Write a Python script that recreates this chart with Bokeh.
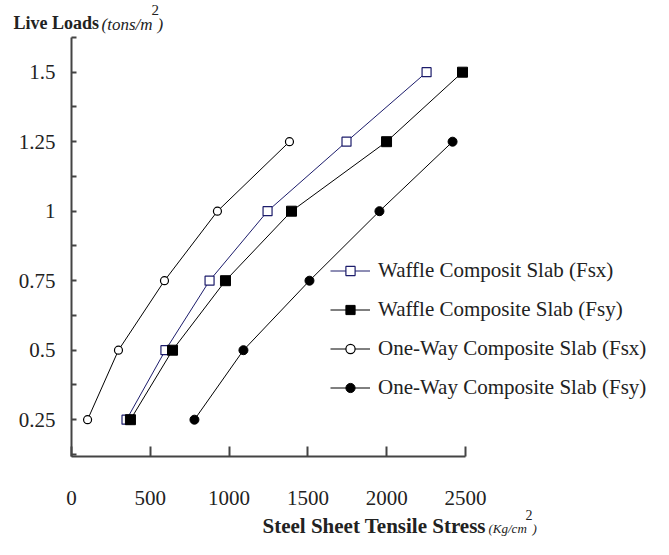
from bokeh.plotting import figure
from bokeh.models import Range1d, FixedTicker, Legend, LegendItem, Label
from bokeh.embed import file_html
from bokeh.resources import INLINE

# ---- data ----
loads = [0.25, 0.5, 0.75, 1.0, 1.25, 1.5]
waffle_fsx = [349, 596, 876, 1244, 1745, 2253]
waffle_fsy = [374, 641, 977, 1396, 1999, 2481]
oneway_loads = [0.25, 0.5, 0.75, 1.0, 1.25]
oneway_fsx = [102, 298, 590, 926, 1383]
oneway_fsy = [780, 1091, 1510, 1954, 2418]

x_ticks = [0, 500, 1000, 1500, 2000, 2500]
x_tick_labels = ["0", "500", "1000", "1500", "2000", "2500"]
y_ticks = [0.25, 0.5, 0.75, 1.0, 1.25, 1.5]
y_tick_labels = ["0.25", "0.5", "0.75", "1", "1.25", "1.5"]
y_minor = [0.125, 0.375, 0.625, 0.875, 1.125, 1.375, 1.625]

series_names = ["Waffle Composit Slab (Fsx)", "Waffle Composite Slab (Fsy)",
                "One-Way Composite Slab (Fsx)", "One-Way Composite Slab (Fsy)"]

NAVY = "#1c1c6b"
AX = "#444444"
FONT = "Liberation Serif"

W, H = 653, 539
X0_PX, X_SCALE = 71.0, 0.1576      # pixel of x=0, pixels per unit
Y15_PX, Y_SCALE = 71.7, 278.0      # pixel of y=1.5, pixels per unit

def xd(px):
    return (px - X0_PX) / X_SCALE

def yd(py):
    return 1.5 + (Y15_PX - py) / Y_SCALE

p = figure(width=W, height=H, min_border=0,
           x_range=Range1d(xd(0), xd(W)), y_range=Range1d(yd(H), yd(0)),
           output_backend="svg", toolbar_location=None)
p.grid.visible = False
p.outline_line_color = None
p.background_fill_color = "white"
p.border_fill_color = "white"

y_bottom = yd(456)
y_top = 1.625

# axes
p.xaxis.fixed_location = y_bottom
p.xaxis.bounds = (0, 2500)
p.yaxis.fixed_location = 0
p.yaxis.bounds = (y_bottom, y_top)
p.xaxis.ticker = FixedTicker(ticks=x_ticks)
p.xaxis.major_label_overrides = {t: l for t, l in zip(x_ticks, x_tick_labels)}
p.yaxis.ticker = FixedTicker(ticks=y_ticks, minor_ticks=y_minor)
p.yaxis.major_label_overrides = {t: l for t, l in zip(y_ticks, y_tick_labels)}
for ax in (p.xaxis, p.yaxis):
    ax.axis_line_color = AX
    ax.axis_line_width = 2
    ax.major_tick_line_color = AX
    ax.major_tick_line_width = 2
    ax.minor_tick_line_color = AX
    ax.minor_tick_line_width = 2
    ax.major_tick_out = 0
    ax.minor_tick_out = 0
    ax.major_label_text_font = FONT
    ax.major_label_text_font_size = "21px"
    ax.major_label_text_color = "#222222"
p.xaxis.major_tick_in = 10
p.xaxis.minor_tick_in = 0
p.xaxis.major_label_standoff = 34
p.yaxis.major_tick_in = 5
p.yaxis.minor_tick_in = 5
p.yaxis.major_label_standoff = 16

# series
l1 = p.line(waffle_fsx, loads, line_color=NAVY, line_width=1)
s1 = p.scatter(waffle_fsx, loads, marker="square", size=9, line_color=NAVY, fill_color="white", line_width=1.2)
l2 = p.line(waffle_fsy, loads, line_color="black", line_width=1)
s2 = p.scatter(waffle_fsy, loads, marker="square", size=10, line_color="black", fill_color="black")
l3 = p.line(oneway_fsx, oneway_loads, line_color="black", line_width=1)
s3 = p.scatter(oneway_fsx, oneway_loads, marker="circle", size=8, line_color="black", fill_color="white", line_width=1.2)
l4 = p.line(oneway_fsy, oneway_loads, line_color="black", line_width=1)
s4 = p.scatter(oneway_fsy, oneway_loads, marker="circle", size=9, line_color="black", fill_color="black")

items = [LegendItem(label=n, renderers=r) for n, r in
         zip(series_names, [[l1, s1], [l2, s2], [l3, s3], [l4, s4]])]
legend = Legend(items=items, location=(330, 139), glyph_width=40, glyph_height=23,
                label_height=23, spacing=14, padding=0, margin=0, label_standoff=8,
                border_line_color=None, background_fill_alpha=0,
                label_text_font=FONT, label_text_font_size="21px", label_text_color="#222222")
p.add_layout(legend)

# axis titles
titles = [
    ("Live Loads", 13, 22, "bold", "18px"),
    ("(tons/m", 101, 24, "italic", "17px"),
    ("2", 151, 9, "normal", "15px"),
    (")", 157, 24, "italic", "17px"),
    ("Steel Sheet Tensile Stress", 262, 525, "bold", "21px"),
    ("(Kg/cm", 488, 528, "italic", "13px"),
    ("2", 525, 514, "normal", "14px"),
    (")", 532, 528, "italic", "13px"),
]
for txt, px, py, style, size in titles:
    p.add_layout(Label(x=xd(px), y=yd(py), text=txt, text_font=FONT, text_font_style=style,
                       text_font_size=size, text_baseline="middle", text_align="left",
                       text_color="#222222"))

open("out.html", "w").write(file_html(p, INLINE))
